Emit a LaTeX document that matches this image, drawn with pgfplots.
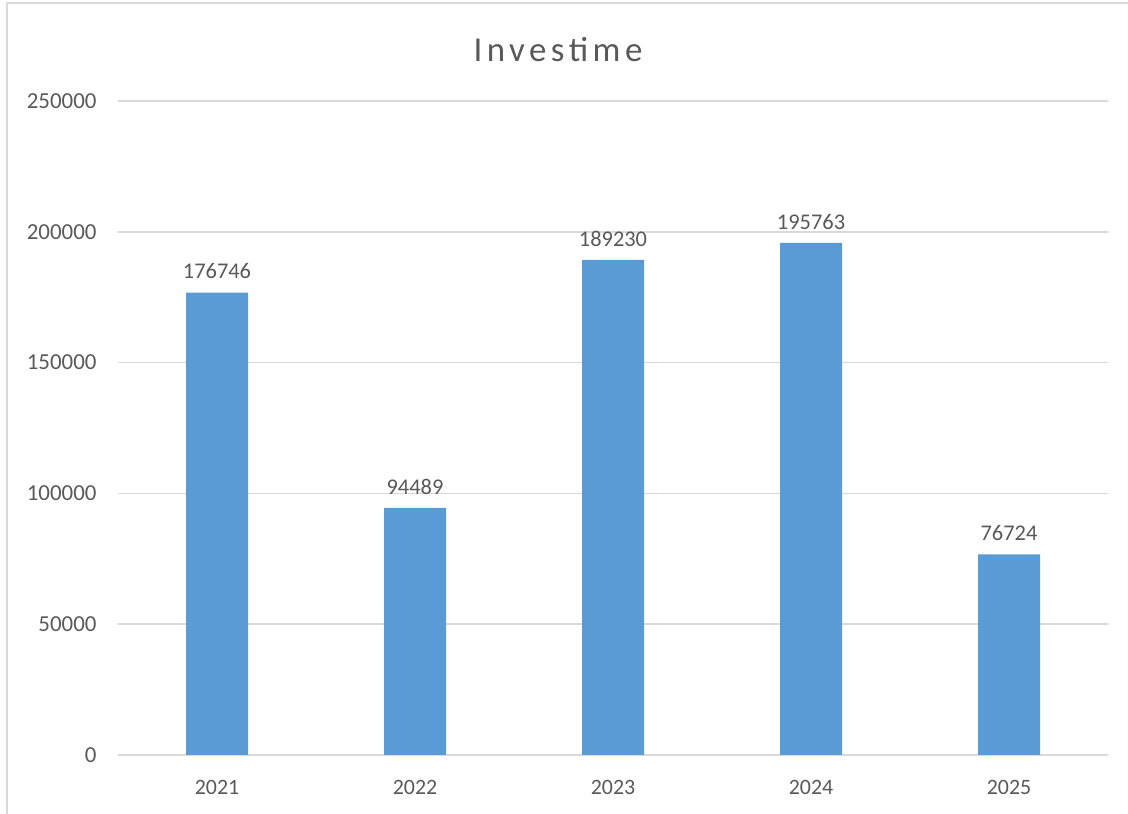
\documentclass[border=0pt]{standalone}
\usepackage{pgfplots}
\pgfplotsset{compat=1.18}
\usepackage{fontspec}
\setmainfont{Carlito}
\definecolor{barblue}{HTML}{5B9BD5}
\definecolor{txtgray}{HTML}{595959}
\definecolor{gridgray}{HTML}{D9D9D9}
\begin{document}
\begin{tikzpicture}[x=1bp,y=1bp]
\useasboundingbox (0,0) rectangle (1128,814);
% chart frame (cut off at right and bottom)
\draw[gridgray, line width=1.5bp] (7,-2) -- (7,811) -- (1130,811);
\begin{axis}[
  at={(118bp,59bp)}, anchor=south west,
  scale only axis, width=990bp, height=654bp,
  xmin=-0.5, xmax=4.5, ymin=0, ymax=250000,
  xtick={0,1,2,3,4},
  xticklabels={2021,2022,2023,2024,2025},
  ytick={0,50000,100000,150000,200000,250000},
  yticklabels={0,50000,100000,150000,200000,250000},
  scaled y ticks=false,
  axis line style={draw=none},
  tick style={draw=none},
  ymajorgrids, grid style={gridgray, line width=1.5bp},
  ticklabel style={font=\fontsize{22}{26}\selectfont, text=txtgray},
  xticklabel style={yshift=-22bp},
  yticklabel style={xshift=-18bp, font=\fontsize{23}{26}\selectfont},
  title={Investime},
  title style={font=\fontsize{35}{40}\selectfont\addfontfeature{LetterSpace=13}, text=txtgray, at={(0.5,1)}, xshift=-55bp, yshift=30bp},
  clip=false,
]
\addplot[ybar, bar width=62bp, fill=barblue, draw=none,
  nodes near coords, point meta=explicit symbolic,
  every node near coord/.append style={font=\fontsize{22.5}{26}\selectfont, text=txtgray, yshift=10bp}]
table[meta=label] {
x y label
0 176746 176746
1 94489 94489
2 189230 189230
3 195763 195763
4 76724 76724
};
\end{axis}
\end{tikzpicture}
\end{document}
